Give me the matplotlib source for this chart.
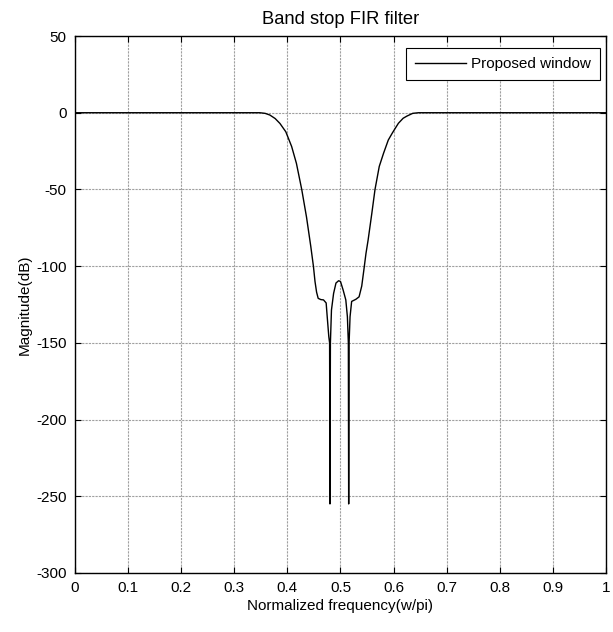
import matplotlib
matplotlib.use("Agg")
import matplotlib.pyplot as plt

plt.rcParams['font.family'] = ['Liberation Sans', 'DejaVu Sans']
plt.rcParams['font.size'] = 11
plt.rcParams['axes.unicode_minus'] = False

# Magnitude response (normalized frequency, dB)
freq = [0.0, 0.10, 0.20, 0.30, 0.348, 0.358, 0.367, 0.377, 0.386, 0.397,
        0.408, 0.417, 0.427, 0.436, 0.444, 0.449, 0.452, 0.455, 0.458, 0.463,
        0.468, 0.473, 0.475, 0.478, 0.4795, 0.4802, 0.481, 0.483, 0.487,
        0.4915, 0.4965, 0.500, 0.505, 0.510, 0.513, 0.5148, 0.5154, 0.5162,
        0.518, 0.521, 0.529, 0.535, 0.540, 0.544, 0.548, 0.552, 0.559, 0.565,
        0.573, 0.581, 0.590, 0.598, 0.609, 0.618, 0.625, 0.636, 0.647, 0.70,
        0.80, 0.90, 1.0]
mag_db = [0.0, 0.0, 0.0, 0.0, 0.0, -0.4, -1.5, -3.8, -7.0, -12.4,
          -22.0, -33.0, -50.0, -68.0, -87.0, -100.0, -110.0, -117.0, -121.0, -121.8,
          -122.0, -124.0, -133.0, -146.0, -150.0, -255.0, -150.0, -128.6, -117.8,
          -111.0, -109.5, -110.0, -115.6, -122.0, -133.0, -150.0, -255.0, -150.0,
          -133.0, -123.0, -121.6, -120.0, -113.0, -102.5, -91.7, -83.0, -65.6, -50.0,
          -35.0, -26.5, -17.8, -13.0, -6.9, -3.6, -2.2, -0.4, 0.0, 0.0,
          0.0, 0.0, 0.0]

xticks = [0, 0.1, 0.2, 0.3, 0.4, 0.5, 0.6, 0.7, 0.8, 0.9, 1]
xtick_labels = ['0', '0.1', '0.2', '0.3', '0.4', '0.5', '0.6', '0.7', '0.8', '0.9', '1']
yticks = [-300, -250, -200, -150, -100, -50, 0, 50]

fig = plt.figure(figsize=(6.13, 6.32), dpi=100)
ax = fig.add_axes([0.1223, 0.0934, 0.8663, 0.8496])

ax.plot(freq, mag_db, color='black', linewidth=1.0, label='Proposed window')

ax.set_xlim(0, 1)
ax.set_ylim(-300, 50)
ax.set_xticks(xticks)
ax.set_xticklabels(xtick_labels)
ax.set_yticks(yticks)

ax.grid(True, color='#a0a0a0', linestyle=(0, (2, 1)), linewidth=0.8)
ax.tick_params(direction='in', top=True, right=True, length=4, width=0.8, pad=6)
for s in ax.spines.values():
    s.set_linewidth(1.0)

ax.set_title('Band stop FIR filter', pad=9)
ax.set_xlabel('Normalized frequency(w/pi)', labelpad=3)
ax.set_ylabel('Magnitude(dB)', labelpad=3)

leg = ax.legend(loc='upper right', fancybox=False, framealpha=1, edgecolor='black',
                handlelength=3.3, handletextpad=0.35, borderpad=0.6, borderaxespad=0,
                bbox_to_anchor=(0.989, 0.978))
leg.get_frame().set_linewidth(0.8)

fig.savefig('out.png', dpi=100)
